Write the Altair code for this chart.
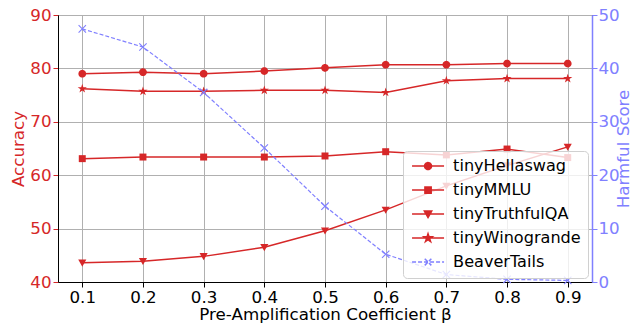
import math
import altair as alt
import pandas as pd

# ---- data ----
beta = [0.1, 0.2, 0.3, 0.4, 0.5, 0.6, 0.7, 0.8, 0.9]
tiny_hellaswag = [79.0, 79.3, 79.0, 79.5, 80.1, 80.7, 80.7, 80.9, 80.9]
tiny_mmlu = [63.1, 63.4, 63.4, 63.4, 63.6, 64.4, 63.8, 64.9, 63.3]
tiny_truthfulqa = [43.6, 43.9, 44.8, 46.5, 49.6, 53.5, 58.0, 61.8, 65.3]
tiny_winogrande = [76.2, 75.7, 75.7, 75.9, 75.9, 75.5, 77.7, 78.1, 78.1]
beavertails = [47.4, 44.0, 35.5, 25.1, 14.2, 5.2, 1.4, 0.5, 0.3]

acc_series = ["tinyHellaswag", "tinyMMLU", "tinyTruthfulQA", "tinyWinogrande"]
all_series = acc_series + ["BeaverTails"]
x_ticks = [0.1, 0.2, 0.3, 0.4, 0.5, 0.6, 0.7, 0.8, 0.9]
acc_ticks = [40, 50, 60, 70, 80, 90]
harm_ticks = [0, 10, 20, 30, 40, 50]

RED = "#d62728"
BLUE = "#8080ff"
FONT = "DejaVu Sans"
FS = 16.7
FS_LEG = 16.1

acc_df = pd.concat([
    pd.DataFrame({"beta": beta, "value": vals, "series": name})
    for name, vals in zip(acc_series, [tiny_hellaswag, tiny_mmlu, tiny_truthfulqa, tiny_winogrande])
])
harm_df = pd.DataFrame({"beta": beta, "value": beavertails, "series": "BeaverTails"})

# ---- marker shapes (unit coordinates) ----
def circle_pts(n=28):
    return [(math.cos(2 * math.pi * i / n), math.sin(2 * math.pi * i / n)) for i in range(n)]

def star_pts():
    pts = []
    for i in range(10):
        ang = math.radians(-90 + 36 * i)
        r = 1.0 if i % 2 == 0 else 0.382
        pts.append((r * math.cos(ang), r * math.sin(ang)))
    return pts

markers = {
    "tinyHellaswag": ([(circle_pts(), True)], 1.0),
    "tinyMMLU": ([([(-1, -1), (1, -1), (1, 1), (-1, 1)], True)], 0.9),
    "tinyTruthfulQA": ([([(-1, -0.8), (1, -0.8), (0, 0.95)], True)], 1.05),
    "tinyWinogrande": ([(star_pts(), True)], 1.25),
    "BeaverTails": ([([(-1, -1), (1, 1)], False), ([(-1, 1), (1, -1)], False)], 0.95),
}

def to_path(subpaths, scale, dx=0.0):
    out = []
    for pts, closed in subpaths:
        s = "M" + "L".join(f"{x * scale + dx:.3f},{y * scale:.3f}" for x, y in pts)
        if closed:
            s += "Z"
        out.append(s)
    return "".join(out)

POINT_SIZE = 60
chart_paths = {s: to_path(markers[s][0], markers[s][1]) for s in all_series}

LEG_SIZE = 100
leg_r = math.sqrt(LEG_SIZE) / 2.0
mk_r = math.sqrt(POINT_SIZE) / 2.0 * 0.9
line_path = f"M{-6 / leg_r:.3f},0L{26 / leg_r:.3f},0"
leg_paths = [
    line_path + to_path(markers[s][0], markers[s][1] * mk_r / leg_r, 10 / leg_r)
    for s in all_series
]

legend = alt.Legend(
    title=None,
    orient="none",
    legendX=345,
    legendY=136,
    padding=7,
    labelFont=FONT,
    labelFontSize=FS_LEG,
    labelColor="black",
    labelOffset=27,
    rowPadding=7,
    columnPadding=0,
    symbolSize=LEG_SIZE,
    symbolStrokeWidth=1.5,
    symbolOpacity=1,
    fillColor="rgba(255,255,255,0.8)",
    strokeColor="#d0d0d0",
    cornerRadius=4,
)

x_enc = alt.X(
    "beta:Q",
    scale=alt.Scale(domain=[0.06, 0.94], nice=False, zero=False),
    axis=alt.Axis(
        values=x_ticks, format=".1f", title="Pre-Amplification Coefficient β",
        grid=True, gridColor="#b0b0b0", gridWidth=1,
        domainColor="black", tickColor="black", tickSize=5, labelPadding=2,
        labelColor="black", labelFontSize=FS, labelFont=FONT,
        titleFont=FONT, titleFontSize=FS, titleFontWeight="normal", titleColor="black",
        titlePadding=1,
    ),
)

y_acc = alt.Y(
    "value:Q",
    scale=alt.Scale(domain=[40, 90], nice=False, zero=False),
    axis=alt.Axis(
        values=acc_ticks, title="Accuracy", orient="left",
        grid=True, gridColor="#b0b0b0", gridWidth=1,
        domainColor="black", tickColor=RED, tickSize=5, labelPadding=2,
        labelColor=RED, labelFontSize=FS, labelFont=FONT,
        titleFont=FONT, titleFontSize=FS, titleFontWeight="normal", titleColor=RED,
        titlePadding=2,
    ),
)
y_harm = alt.Y(
    "value:Q",
    scale=alt.Scale(domain=[0, 50], nice=False, zero=False),
    axis=alt.Axis(
        values=harm_ticks, title="Harmful Score", orient="right",
        grid=False,
        domainColor=BLUE, domainWidth=1.5, tickColor=BLUE, tickSize=5, labelPadding=1,
        labelColor=BLUE, labelFontSize=FS, labelFont=FONT,
        titleFont=FONT, titleFontSize=FS, titleFontWeight="normal", titleColor=BLUE,
        titlePadding=-4, titleAngle=270, titleBaseline="top",
    ),
)

acc_lines = alt.Chart(acc_df).mark_line(color=RED, strokeWidth=1.5).encode(
    x=x_enc, y=y_acc, detail="series:N"
)
acc_point_layers = [
    alt.Chart(acc_df)
    .transform_filter(alt.datum.series == s)
    .mark_point(shape=chart_paths[s], filled=True, color=RED, size=POINT_SIZE, opacity=1)
    .encode(x=x_enc, y=y_acc)
    for s in acc_series
]

# legend-only layer (no rows pass the filter; entries come from the scale domains)
legend_layer = (
    alt.Chart(pd.concat([acc_df, harm_df]))
    .transform_filter("datum.value < -1000")
    .mark_point(opacity=1)
    .encode(
        x=x_enc,
        y=y_acc,
        fill=alt.Fill("series:N", scale=alt.Scale(domain=all_series, range=[RED] * 4 + ["transparent"]), legend=legend),
        stroke=alt.Stroke("series:N", scale=alt.Scale(domain=all_series, range=[RED] * 4 + [BLUE]), legend=legend),
        shape=alt.Shape("series:N", scale=alt.Scale(domain=all_series, range=leg_paths), legend=legend),
        strokeDash=alt.StrokeDash("series:N", scale=alt.Scale(domain=all_series, range=[[1, 0]] * 4 + [[4, 2]]), legend=legend),
    )
)

harm_line = alt.Chart(harm_df).mark_line(color=BLUE, strokeWidth=1.2, strokeDash=[4, 2]).encode(
    x=x_enc, y=y_harm
)
harm_points = alt.Chart(harm_df).mark_point(
    shape=chart_paths["BeaverTails"], filled=False, color=BLUE, size=POINT_SIZE, opacity=1, strokeWidth=1.1
).encode(x=x_enc, y=y_harm)

left = alt.layer(acc_lines, *acc_point_layers, legend_layer)
right = alt.layer(harm_line, harm_points)

chart = (
    alt.layer(left, right)
    .resolve_scale(y="independent")
    .properties(
        width=534,
        height=267,
        autosize=alt.AutoSizeParams(type="none"),
        padding={"left": 50, "top": 7, "right": 40, "bottom": 42},
    )
    .configure_view(stroke="black", strokeWidth=1)
)

chart.save("out.html", embed_options={"renderer": "svg", "actions": False})
